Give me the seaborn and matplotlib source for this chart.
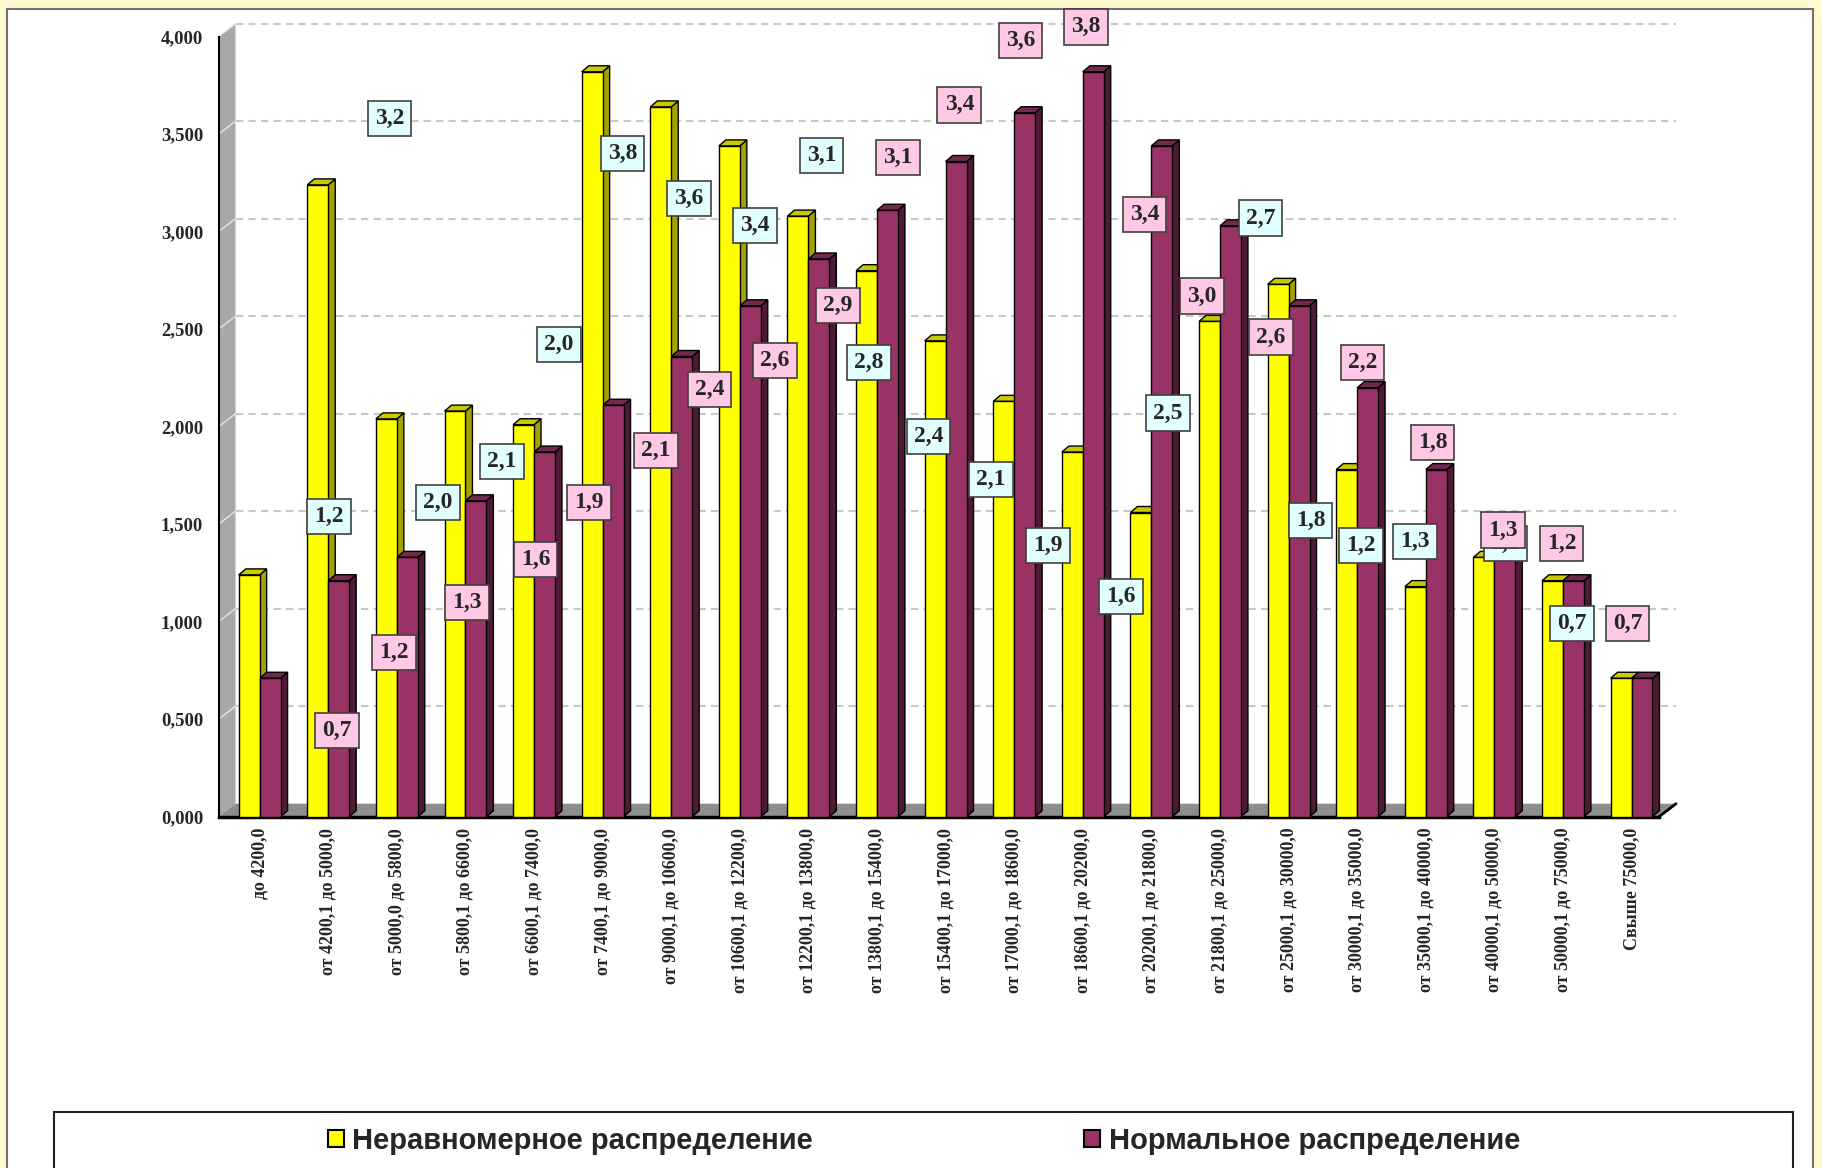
import numpy as np
import pandas as pd
import matplotlib
matplotlib.use('Agg')
import matplotlib.pyplot as plt
import matplotlib.transforms as mtransforms
from matplotlib.patches import Polygon, Rectangle, Patch
import seaborn as sns

# интервалы доходов (подписи оси X)
categories = [
    'до 4200,0', 'от 4200,1 до 5000,0', 'от 5000,0 до 5800,0', 'от 5800,1 до 6600,0',
    'от 6600,1 до 7400,0', 'от 7400,1 до 9000,0', 'от 9000,1 до 10600,0',
    'от 10600,1 до 12200,0', 'от 12200,1 до 13800,0', 'от 13800,1 до 15400,0',
    'от 15400,1 до 17000,0', 'от 17000,1 до 18600,0', 'от 18600,1 до 20200,0',
    'от 20200,1 до 21800,0', 'от 21800,1 до 25000,0', 'от 25000,1 до 30000,0',
    'от 30000,1 до 35000,0', 'от 35000,1 до 40000,0', 'от 40000,1 до 50000,0',
    'от 50000,1 до 75000,0', 'Свыше 75000,0',
]
series_names = ['Неравномерное распределение', 'Нормальное распределение']

uneven = [1.24, 3.24, 2.04, 2.08, 2.01, 3.82, 3.64, 3.44, 3.08, 2.80, 2.44,
          2.13, 1.87, 1.56, 2.54, 2.73, 1.78, 1.18, 1.33, 1.21, 0.71]
normal = [0.71, 1.21, 1.33, 1.62, 1.87, 2.11, 2.36, 2.62, 2.86, 3.11, 3.36,
          3.61, 3.82, 3.44, 3.03, 2.62, 2.20, 1.78, 1.33, 1.21, 0.71]

y_ticks = [0.0, 0.5, 1.0, 1.5, 2.0, 2.5, 3.0, 3.5, 4.0]

# положения подписей данных (сдвинуты вручную, как на исходной диаграмме)
cyan_lx = [1.01, 1.89, 2.60, 3.53, 4.36, 5.29, 6.26, 7.22, 8.19, 8.88, 9.75,
           10.66, 11.49, 12.56, 13.24, 14.59, 15.32, 16.06, 16.84, 18.16, 19.13]
cyan_ly = [1.54, 3.58, 1.61, 1.82, 2.42, 3.40, 3.17, 3.03, 3.39, 2.33, 1.95,
           1.73, 1.39, 1.13, 2.07, 3.07, 1.52, 1.39, 1.41, 1.40, 0.99]
pink_lx = [1.13, 1.96, 3.02, 4.02, 4.80, 5.78, 6.56, 7.51, 8.43, 9.31, 10.20,
           11.09, 12.05, 12.90, 13.74, 14.74, 16.08, 17.10, 18.13, 18.98, 19.94]
pink_ly = [0.44, 0.84, 1.10, 1.32, 1.61, 1.88, 2.19, 2.34, 2.62, 3.38, 3.65,
           3.98, 4.05, 3.09, 2.67, 2.46, 2.33, 1.92, 1.47, 1.40, 0.99]

sns.set_style('white')
plt.rcParams['font.family'] = ['Liberation Serif', 'DejaVu Serif']

W, H = 1822, 1168
fig = plt.figure(figsize=(W / 100, H / 100), dpi=100, facecolor='#FFFACD')

# область диаграммы и рамка легенды
fig.add_artist(Rectangle((7 / W, -0.01), (1813 - 7) / W, (H - 9) / H + 0.01,
                         transform=fig.transFigure, facecolor='white',
                         edgecolor='#707070', lw=1.5, zorder=-2))
fig.add_artist(Rectangle((54 / W, -0.01), (1793 - 54) / W, (H - 1112) / H + 0.01,
                         transform=fig.transFigure, facecolor='white',
                         edgecolor='#202020', lw=1.5, zorder=-1))

ax = fig.add_axes([218.5 / W, (H - 816.7) / H, (1659 - 218.5) / W, (816.7 - 36.7) / H])
ax.set_facecolor('none')

df = pd.DataFrame({
    'cat': categories * 2,
    'val': uneven + normal,
    'series': [series_names[0]] * len(categories) + [series_names[1]] * len(categories),
})
colors = ['#FFFF00', '#993366']
side_cols = ['#A3A300', '#4F1A35']
top_cols = ['#C9C900', '#74284E']

sns.barplot(data=df, x='cat', y='val', hue='series', order=categories,
            hue_order=series_names, palette=colors, saturation=1, width=0.61,
            edgecolor='black', linewidth=1.0, errorbar=None, legend=False,
            ax=ax, zorder=3)

ax.set_xlim(-0.6, 20.4)
ax.set_ylim(0, 4)
ax.set_xlabel('')
ax.set_ylabel('')

for s in ['top', 'right']:
    ax.spines[s].set_visible(False)
ax.spines['left'].set_linewidth(1.5)
ax.spines['left'].set_color('black')
ax.spines['bottom'].set_linewidth(2.5)
ax.spines['bottom'].set_color('black')

ax.set_yticks(y_ticks)
ax.set_yticklabels([f'{t:.3f}'.replace('.', ',') for t in y_ticks],
                   fontsize=13.5, fontweight='bold')
ax.tick_params(axis='y', length=5, width=1.2, direction='out', pad=6)

ax.set_xticks(range(len(categories)))
ax.set_xticklabels(categories, rotation=90, fontsize=13, fontweight='bold',
                   va='top', ha='center')
ax.tick_params(axis='x', which='major', length=0, pad=8)
ax.set_xticks(np.arange(-0.6, 20.5, 1.0), minor=True)
ax.tick_params(axis='x', which='minor', length=6, width=1.2, direction='out')

# --- псевдо-3D: стенка, пол, линии сетки на задней стенке ---
dxw, dyw = 17, 13
ident = mtransforms.IdentityTransform()
to_disp = ax.transData.transform
back = mtransforms.offset_copy(ax.transData, fig=fig, x=dxw, y=dyw, units='dots')

for t in y_ticks[1:]:
    ax.plot([-0.6, 20.4], [t, t], transform=back, color='#C8C8C8', lw=1.5,
            ls=(0, (3.5, 2.5)), zorder=1, clip_on=False)

fl, fb = to_disp((-0.6, 0))
fr, _ = to_disp((20.4, 0))
_, ft = to_disp((-0.6, 4))
wall = Polygon([(fl, fb), (fl + dxw, fb + dyw), (fl + dxw, ft + dyw), (fl, ft)],
               closed=True, transform=ident, facecolor='#A8A8A8',
               edgecolor='none', zorder=1.5, clip_on=False)
ax.add_patch(wall)
for t in y_ticks[1:]:
    _, py = to_disp((-0.6, t))
    ax.plot([fl, fl + dxw], [py, py + dyw], transform=ident, color='#E6E6E6',
            lw=1.0, zorder=1.6, clip_on=False)
floor = Polygon([(fl, fb), (fr, fb), (fr + dxw, fb + dyw), (fl + dxw, fb + dyw)],
                closed=True, transform=ident, facecolor='#8E8E8E',
                edgecolor='none', zorder=1.5, clip_on=False)
ax.add_patch(floor)
ax.plot([fr, fr + dxw], [fb, fb + dyw], transform=ident, color='black', lw=2,
        zorder=1.7, clip_on=False)

# боковые и верхние грани столбиков
dx, dy = 7, 6
bars = [b for b in list(ax.patches) if b not in (wall, floor)]
n = len(categories)
for i, bar in enumerate(bars):
    k = 0 if i < n else 1
    x0 = bar.get_x()
    x1 = x0 + bar.get_width()
    h = bar.get_height()
    px0, py0 = to_disp((x0, 0))
    px1, py1 = to_disp((x1, h))
    side = Polygon([(px1, py0), (px1 + dx, py0 + dy), (px1 + dx, py1 + dy), (px1, py1)],
                   closed=True, transform=ident, facecolor=side_cols[k],
                   edgecolor='black', lw=1.0, zorder=2.9, clip_on=False)
    top = Polygon([(px0, py1), (px0 + dx, py1 + dy), (px1 + dx, py1 + dy), (px1, py1)],
                  closed=True, transform=ident, facecolor=top_cols[k],
                  edgecolor='black', lw=1.0, zorder=2.9, clip_on=False)
    ax.add_patch(side)
    ax.add_patch(top)

# подписи данных
def fmt(v):
    return f'{v:.1f}'.replace('.', ',')

for v, lx, ly in zip(uneven, cyan_lx, cyan_ly):
    ax.text(lx, ly, fmt(v), ha='center', va='center', fontsize=17,
            fontweight='bold', zorder=5, clip_on=False,
            bbox=dict(boxstyle='square,pad=0.3', facecolor='#E2FFFF',
                      edgecolor='#404040', lw=1.2))
for v, lx, ly in zip(normal, pink_lx, pink_ly):
    ax.text(lx, ly, fmt(v), ha='center', va='center', fontsize=17,
            fontweight='bold', zorder=6, clip_on=False,
            bbox=dict(boxstyle='square,pad=0.3', facecolor='#FFC8E4',
                      edgecolor='#404040', lw=1.2))

# легенда
handles = [Patch(facecolor=c, edgecolor='black', lw=1.5) for c in colors]
fig.legend(handles=handles, labels=series_names, loc='center',
           bbox_to_anchor=(924 / W, 1 - 1141 / H), ncol=2, frameon=False,
           prop={'family': ['Liberation Sans', 'DejaVu Sans'], 'weight': 'bold', 'size': 21},
           handlelength=0.55, handleheight=0.55, handletextpad=0.3,
           columnspacing=9.3, borderpad=0)

fig.savefig('out.png', dpi=100, facecolor=fig.get_facecolor())
